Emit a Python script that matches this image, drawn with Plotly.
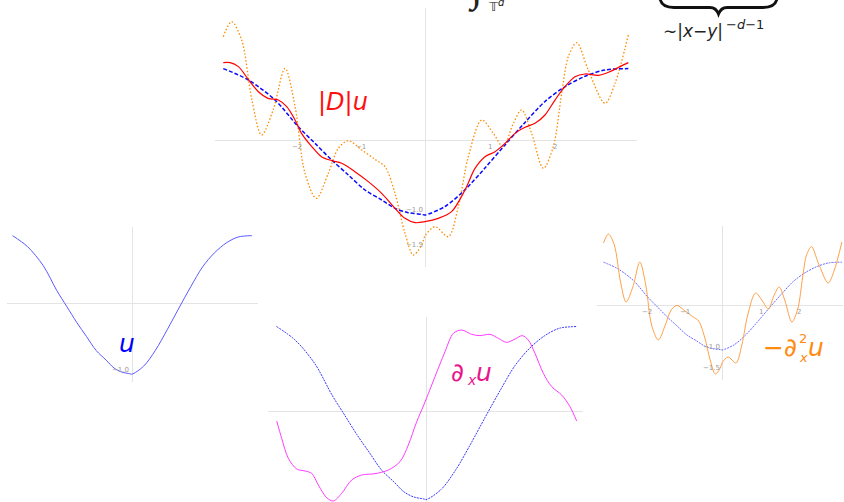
import plotly.graph_objects as go

W, H = 844, 502
FONT = "DejaVu Sans"

# ---- data -------------------------------------------------------------
# u(x) on the torus [-pi, pi]
u_x = [-3.145, -2.756, -2.342, -1.98, -1.72, -1.461, -1.203, -0.944, -0.685,
       -0.478, -0.272, -0.064, -0.012, 0.298, 0.609, 0.919, 1.23, 1.54, 1.851,
       2.16, 2.472, 2.783, 3.145]
u_y = [1.02, 0.857, 0.571, 0.19, -0.048, -0.286, -0.5, -0.714, -0.857,
       -0.976, -1.038, -1.062, -1.07, -0.95, -0.71, -0.40, -0.07, 0.25, 0.55,
       0.76, 0.91, 1.0, 1.02]

# |D| u  (half Laplacian)
du_abs_x = [-3.145, -3.04, -2.91, -2.757, -2.60, -2.45, -2.29, -2.16, -2.03,
            -1.93, -1.77, -1.62, -1.46, -1.306, -1.10, -0.893, -0.685, -0.478,
            -0.323, -0.168, -0.012, 0.195, 0.40, 0.609, 0.764, 0.919, 1.075,
            1.23, 1.385, 1.54, 1.696, 1.851, 2.006, 2.16, 2.317, 2.472, 2.68,
            2.86, 3.016, 3.145]
du_abs_y = [1.105, 1.105, 1.048, 0.867, 0.69, 0.595, 0.571, 0.476, 0.286,
            0.095, -0.095, -0.238, -0.295, -0.333, -0.452, -0.595, -0.762,
            -0.976, -1.119, -1.181, -1.167, -1.119, -1.024, -0.714, -0.405,
            -0.238, -0.167, -0.048, 0.095, 0.181, 0.238, 0.357, 0.571, 0.762,
            0.905, 0.943, 0.924, 0.976, 1.048, 1.105]

# -d^2u/dx^2
lap_x = [-3.145, -3.015, -2.86, -2.70, -2.55, -2.37, -2.186, -2.03, -1.876,
         -1.70, -1.514, -1.359, -1.204, -0.996, -0.789, -0.634, -0.478, -0.323,
         -0.194, -0.064, -0.012, 0.143, 0.35, 0.505, 0.66, 0.868, 1.048, 1.203,
         1.359, 1.489, 1.644, 1.825, 1.98, 2.11, 2.213, 2.343, 2.523, 2.783,
         2.938, 3.145]
lap_y = [1.476, 1.69, 1.43, 0.571, 0.071, 0.43, 1.024, 0.476, -0.476,
         -0.833, -0.476, -0.119, -0.01, -0.143, -0.276, -0.381, -0.762, -1.333,
         -1.643, -1.5, -1.371, -1.238, -1.381, -0.952, -0.238, 0.286, 0.095,
         -0.095, 0.238, 0.429, 0.095, -0.405, -0.095, 0.667, 1.19, 1.39, 1.0,
         0.524, 0.81, 1.5]

# du/dx
dx_x = [-3.141, -3.037, -2.898, -2.723, -2.549, -2.408, -2.27, -2.094, -1.956,
        -1.78, -1.571, -1.361, -1.083, -0.804, -0.559, -0.385, -0.209, -0.07,
        0.0, 0.174, 0.383, 0.558, 0.733, 0.942, 1.116, 1.326, 1.50, 1.675,
        1.849, 2.003, 2.128, 2.268, 2.443, 2.618, 2.827, 3.001, 3.141]
dx_y = [-0.121, -0.33, -0.571, -0.70, -0.725, -0.753, -0.894, -1.047, -1.087,
        -0.994, -0.833, -0.773, -0.757, -0.713, -0.612, -0.411, -0.129, 0.06,
        0.16, 0.415, 0.716, 0.938, 0.978, 0.926, 0.910, 0.926, 0.878, 0.829,
        0.869, 0.910, 0.857, 0.696, 0.455, 0.294, 0.193, 0.052, -0.121]

x_ticks = [-2, -1, 1, 2]
x_tick_text = ["\u22122", "\u22121", "1", "2"]

# ---- panel geometry (pixel origin, pixels per unit, pixel box) ---------
panels = {
    "A": dict(o=(425.8, 140.0), s=(64.4, 70.0), box=(215, 637, 8, 267)),
    "B": dict(o=(132.2, 303.3), s=(38.04, 66.3), box=(6.7, 258.3, 226.7, 381.7)),
    "C": dict(o=(426.7, 411.0), s=(47.75, 82.8), box=(268, 583, 316.7, 502)),
    "D": dict(o=(722.7, 305.0), s=(37.9, 42.0), box=(596.7, 843, 226, 380)),
}
axis_ids = {"A": "", "B": "2", "C": "3", "D": "4"}

fig = go.Figure()
layout = dict(width=W, height=H, margin=dict(l=0, r=0, t=0, b=0),
              paper_bgcolor="white", plot_bgcolor="rgba(0,0,0,0)",
              showlegend=False)

for name, p in panels.items():
    ox, oy = p["o"]
    sx, sy = p["s"]
    x0, x1, y0, y1 = p["box"]
    k = axis_ids[name]
    ax = dict(domain=[x0 / W, x1 / W], range=[(x0 - ox) / sx, (x1 - ox) / sx],
              showgrid=False, showticklabels=False, ticks="", showline=False,
              zeroline=True, zerolinecolor="#e4e4e4", zerolinewidth=1,
              fixedrange=True)
    ay = dict(domain=[1 - y1 / H, 1 - y0 / H],
              range=[(oy - y1) / sy, (oy - y0) / sy],
              showgrid=False, showticklabels=False, ticks="", showline=False,
              zeroline=True, zerolinecolor="#e4e4e4", zerolinewidth=1,
              fixedrange=True)
    if k:
        ax["anchor"] = "y" + k
        ay["anchor"] = "x" + k
    layout["xaxis" + k] = ax
    layout["yaxis" + k] = ay


def curve(x, y, k, color, width, dash="solid"):
    fig.add_trace(go.Scatter(
        x=x, y=y, mode="lines", xaxis="x" + k, yaxis="y" + k,
        line=dict(color=color, width=width, dash=dash, shape="spline",
                  smoothing=0.9),
        hoverinfo="skip"))


# top: u, |D|u and -u'' together
curve(lap_x, lap_y, "", "#ff8c00", 1.3, "1.5px,2px")
curve(u_x, u_y, "", "#0a0aff", 1.5, "4px,2px")
curve(du_abs_x, du_abs_y, "", "#ff0000", 1.2)
# bottom left: u alone
curve(u_x, u_y, "2", "#5a5aff", 1.0)
# bottom middle: u and du/dx
curve(u_x, u_y, "3", "#3535ff", 1.0, "2px,1px")
curve(dx_x, dx_y, "3", "#ff3cff", 1.0)
# right: u and -u''
curve(u_x, u_y, "4", "#6a6aff", 1.0, "2px,1px")
curve(lap_x, lap_y, "4", "#ffa04a", 1.0)

fig.update_layout(**layout)

ann = []


def tick(text, x, y, k, xanchor="center", yanchor="top", xs=0, ys=0):
    ann.append(dict(text=text, x=x, y=y, xref="x" + k, yref="y" + k,
                    showarrow=False, xanchor=xanchor, yanchor=yanchor,
                    xshift=xs, yshift=ys,
                    font=dict(family=FONT, size=7, color="#9a9a9a")))


for xv, tt in zip(x_ticks, x_tick_text):
    tick(tt, xv, 0, "", ys=-1)
    tick(tt, xv, 0, "4", ys=-1)
tick("\u22121.5", 0, -1.5, "", xanchor="right", yanchor="middle", xs=-1)
tick("\u22121.0", 0, -1.0, "", xanchor="right", yanchor="middle", xs=-1)
tick("\u22121.0", 0, -1.0, "2", xanchor="right", yanchor="middle", xs=-1)
tick("\u22121.0", 0, -1.0, "4", xanchor="right", yanchor="middle", xs=-1)
tick("\u22121.5", 0, -1.5, "4", xanchor="right", yanchor="middle", xs=-1)


def label(text, px, py, size, color, xanchor="left", yanchor="middle",
          family=FONT):
    ann.append(dict(text=text, x=px / W, y=1 - py / H, xref="paper",
                    yref="paper", showarrow=False, xanchor=xanchor,
                    yanchor=yanchor,
                    font=dict(family=family, size=size, color=color)))


label("|<i>D</i>|<i>u</i>", 316, 102, 24, "#ff1010")
label("<i>u</i>", 117, 343, 25, "#0000ff")
label("\u2202", 449, 372, 25, "#e8168c")
label("<i>x</i>", 465, 380, 14, "#e8168c")
label("<i>u</i>", 474, 372, 25, "#e8168c")
label("\u2212\u2202", 761, 347, 25, "#ff8a10")
label("2", 797, 338, 13, "#ff8a10")
label("<i>x</i>", 797, 357, 13, "#ff8a10")
label("<i>u</i>", 806, 347, 25, "#ff8a10")

# integral over the torus, mostly above the frame
label("\u222b", 466, 14, 44, "#222222", yanchor="bottom",
      family="Liberation Serif")
label("\U0001D54B", 486, 7, 13, "#222222")
label("<i>d</i>", 496, 3, 10, "#222222")

# kernel size under the brace
label("\u223c|<i>x</i>\u2212<i>y</i>|", 661, 31, 17, "#222222")
label("\u2212<i>d</i>\u22121", 724, 25, 13, "#222222")

fig.update_layout(annotations=ann)


def to_paper(px, py):
    return f"{px / W:.5f},{1 - py / H:.5f}"


brace = ("M " + to_paper(660, -1) + " Q " + to_paper(662, 7.5) + " " +
         to_paper(674, 7.5) + " L " + to_paper(710, 7.5) + " Q " +
         to_paper(716, 7.5) + " " + to_paper(718.5, 14) + " Q " +
         to_paper(721, 7.5) + " " + to_paper(727, 7.5) + " L " +
         to_paper(763, 7.5) + " Q " + to_paper(775, 7.5) + " " +
         to_paper(777, -1))
fig.add_shape(type="path", path=brace, xref="paper", yref="paper",
              line=dict(color="#111111", width=2.8))

fig.write_html("out.html")
